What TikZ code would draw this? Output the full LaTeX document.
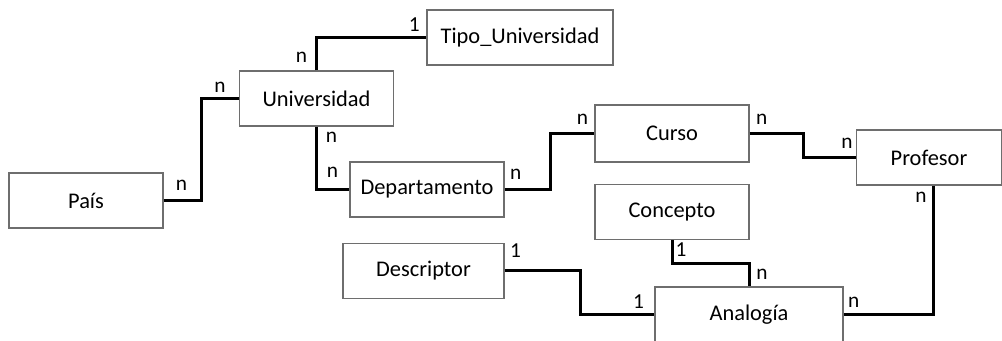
\documentclass[tikz,border=0pt]{standalone}
\usepackage{fontspec}
\setmainfont{Carlito}
\usetikzlibrary{calc}
\definecolor{Edge}{HTML}{6E6E6E}

\begin{document}
\begin{tikzpicture}[x=0.75pt,y=-0.75pt,
    ent/.style={draw=Edge,line width=0.9pt,minimum width=115.5pt,minimum height=41.25pt,inner sep=0pt,font=\fontsize{16.8}{19}\selectfont},
    rel/.style={line width=2.25pt,draw=black},
    card/.style={inner sep=0pt,font=\fontsize{16}{18}\selectfont}]
  \useasboundingbox (0,0) rectangle (1002,341);
  % entidades
  \node[ent] (pais) at (86,200.5) {País};
  \node[ent] (univ) at (316.5,98.5) {Universidad};
  \node[ent,minimum width=139.5pt] (tipo) at (520,37.5) {Tipo\_Universidad};
  \node[ent] (depto) at (427,189.5) {Departamento};
  \node[ent,minimum width=120.75pt] (desc) at (423.5,271) {Descriptor};
  \node[ent,minimum height=42.75pt] (curso) at (672,133.5) {Curso};
  \node[ent] (conc) at (672,212) {Concepto};
  \node[ent,minimum width=108.75pt] (prof) at (929,157.5) {Profesor};
  \node[ent,minimum width=141pt] (ana) at (749,314.5) {Analogía};
  % relaciones
  \draw[rel] (pais.east) -- ++(38,0) |- (univ.west);
  \draw[rel] (univ.north) |- (tipo.west);
  \draw[rel] (univ.south) |- (depto.west);
  \draw[rel] (depto.east) -- ++(46,0) |- (curso.west);
  \draw[rel] (curso.east) -- ++(54,0) |- (prof.west);
  \draw[rel] ($(prof.south)+(4,0)$) |- (ana.east);
  \draw[rel] (conc.south) -- ++(0,23) -| (ana.north);
  \draw[rel] (desc.east) -- ++(76,0) |- (ana.west);
  % cardinalidades
  \node[card] (c1) at ($(pais.east)+(18,-15)$) {n};
  \node[card] (c2) at ($(univ.west)+(-19,-11)$) {n};
  \node[card] (c3) at ($(univ.north)+(-15,-13)$) {n};
  \node[card] (c4) at ($(tipo.west)+(-12,-13)$) {1};
  \node[card] (c5) at ($(univ.south)+(15,11)$) {n};
  \node[card] (c6) at ($(depto.west)+(-17,-17)$) {n};
  \node[card] (c7) at ($(depto.east)+(11,-15)$) {n};
  \node[card] (c8) at ($(curso.west)+(-12,-14)$) {n};
  \node[card] (c9) at ($(curso.east)+(12,-14)$) {n};
  \node[card] (c10) at ($(prof.west)+(-9,-14)$) {n};
  \node[card] (c11) at ($(prof.south)+(-8,12)$) {n};
  \node[card] (c12) at ($(ana.east)+(10,-12)$) {n};
  \node[card] (c13) at ($(conc.south)+(9,10)$) {1};
  \node[card] (c14) at ($(ana.north)+(13,-12)$) {n};
  \node[card] (c15) at ($(desc.east)+(11,-20)$) {1};
  \node[card] (c16) at ($(ana.west)+(-16,-13)$) {1};
\end{tikzpicture}
\end{document}
